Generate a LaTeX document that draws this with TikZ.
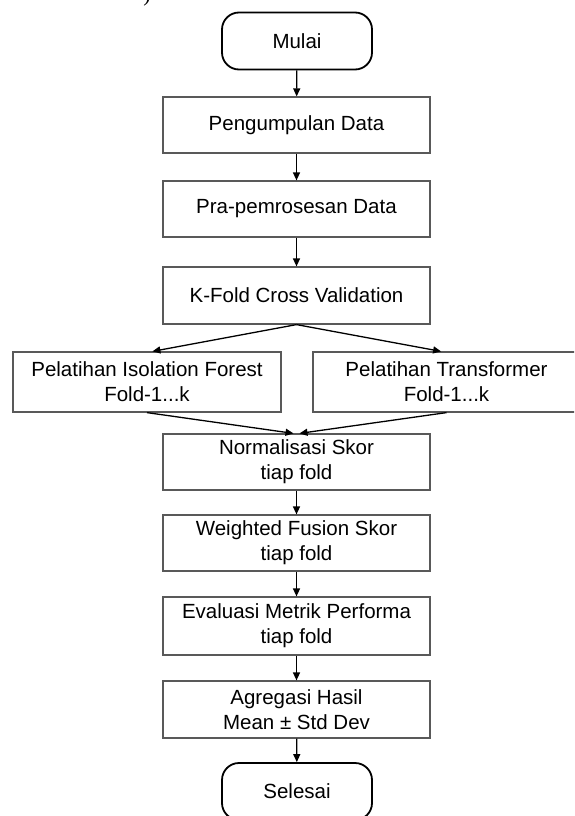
\documentclass[tikz,border=0pt]{standalone}
\usepackage{fontspec}
\setmainfont{Liberation Sans}
\newfontfamily\seriffont{Liberation Serif}
\usetikzlibrary{arrows.meta}

\begin{document}
\begin{tikzpicture}
	[x=1pt,y=-1pt,line width=1.2,
	box/.style = {
		draw=black!65,
		fill=white,
		minimum width=267pt,
		minimum height=56pt,
		inner sep=0pt,
		align=center,
		font=\fontsize{20.5}{25}\selectfont
	},
	terminal/.style = {
		box, draw=black, line width=1.8,
		rounded corners=17pt,
		minimum width=150pt, minimum height=57pt
	},
	arrow/.style = {
		-{Triangle[length=8pt,width=7pt]}, line width=1.3, draw=black
	}]
	
	\clip (0,0) rectangle (574,816);
	
	%Draw nodes
	\node[font=\seriffont\fontsize{22}{26}\selectfont] at (147,-4) (kurung) {)};
	
	\node[terminal] at (297,41) (mulai) {Mulai};
	\node[box] at (296.5,125) (kumpul) {Pengumpulan Data};
	\node[box] at (296.5,209) (praproses) {Pra-pemrosesan Data};
	\node[box, minimum height=57pt] at (296.5,295.5) (kfold) {K-Fold Cross Validation};
	
	\node[box, minimum width=268pt, minimum height=60pt] at (147,382) (iforest) {Pelatihan Isolation Forest\\Fold-1...k};
	\node[box, minimum height=60pt] at (446.5,382) (transf) {Pelatihan Transformer\\Fold-1...k};
	
	\node[box] at (296.5,462) (norm) {Normalisasi Skor\\tiap fold};
	\node[box] at (296.5,543) (fusion) {Weighted Fusion Skor\\tiap fold};
	\node[box, minimum height=58pt] at (296.5,626) (evaluasi) {Evaluasi Metrik Performa\\tiap fold};
	\node[box, minimum height=57pt] at (296.5,709.5) (agregasi) {Agregasi Hasil\\Mean ± Std Dev};
	\node[terminal] at (297,791.5) (selesai) {Selesai};
	
	%Draw arrows
	\draw[arrow] (mulai) -- (kumpul);
	\draw[arrow] (kumpul) -- (praproses);
	\draw[arrow] (praproses) -- (kfold);
	
	\draw[arrow] (kfold.south) -- (iforest.80);
	\draw[arrow] (kfold.south) -- (transf.100);
	\draw[arrow] (iforest.south) -- (norm.96);
	\draw[arrow] (transf.south) -- (norm.84);
	
	\draw[arrow] (norm) -- (fusion);
	\draw[arrow] (fusion) -- (evaluasi);
	\draw[arrow] (evaluasi) -- (agregasi);
	\draw[arrow] (agregasi) -- (selesai);
	
\end{tikzpicture}
\end{document}
